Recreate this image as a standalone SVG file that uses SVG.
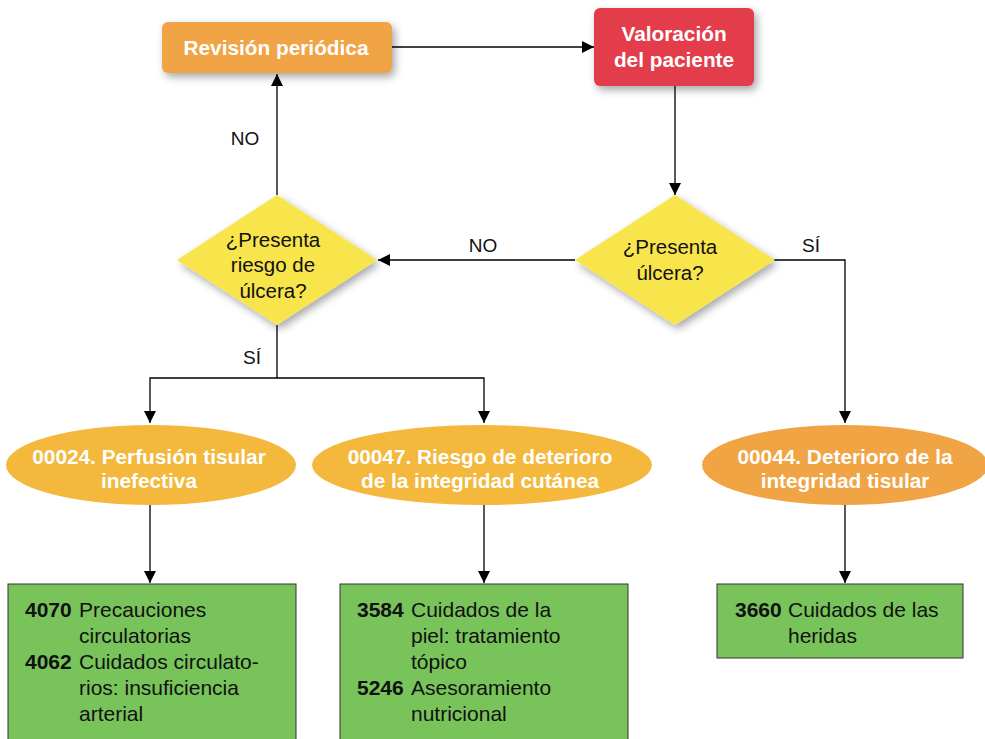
<svg xmlns="http://www.w3.org/2000/svg" width="985" height="739" viewBox="0 0 985 739">
<defs>
<filter id="sh" x="-20%" y="-20%" width="150%" height="160%">
<feGaussianBlur in="SourceAlpha" stdDeviation="4"/>
<feOffset dx="3" dy="4" result="b"/>
<feComponentTransfer><feFuncA type="linear" slope="0.35"/></feComponentTransfer>
<feMerge><feMergeNode/><feMergeNode in="SourceGraphic"/></feMerge>
</filter>
<marker id="ah" viewBox="0 0 12 12" refX="12" refY="6" markerWidth="12" markerHeight="12" markerUnits="userSpaceOnUse" orient="auto">
<path d="M0,0 L12,6 L0,12 Z" fill="#000"/>
</marker>
</defs>
<style>
.c{fill:none;stroke:#000;stroke-width:1.3}
.t{font-family:"Liberation Sans",Arial,sans-serif}
.w{fill:#fff;font-weight:bold;font-size:20.8px;text-anchor:middle}
.q{fill:#111;font-size:20.5px;text-anchor:middle}
.l{fill:#111;font-size:19px;text-anchor:middle}
.b{fill:#111;font-size:21px}
.n{font-weight:bold}
.g{fill:#78C45B;stroke:#333;stroke-width:1}
.d{fill:#F8E44B}
</style>
<g id="connectors">
<path class="c" d="M392,47 H594" marker-end="url(#ah)"/>
<path class="c" d="M675,86 V195" marker-end="url(#ah)"/>
<path class="c" d="M575,260 H378" marker-end="url(#ah)"/>
<path class="c" d="M773,260 H845 V423" marker-end="url(#ah)"/>
<path class="c" d="M277,195 V74" marker-end="url(#ah)"/>
<path class="c" d="M277,325 V378 H150 V423" marker-end="url(#ah)"/>
<path class="c" d="M277,378 H484 V423" marker-end="url(#ah)"/>
<path class="c" d="M150,505 V583" marker-end="url(#ah)"/>
<path class="c" d="M484,505 V583" marker-end="url(#ah)"/>
<path class="c" d="M845,505 V583" marker-end="url(#ah)"/>
<text class="t l" x="245" y="145">NO</text>
<text class="t l" x="483" y="252">NO</text>
<text class="t l" x="811" y="252">SÍ</text>
<text class="t l" x="252" y="364">SÍ</text>
</g>
<g id="revision">
<rect x="162" y="22" width="230" height="51" rx="6" fill="#F0A444" filter="url(#sh)"/>
<text class="t w" x="276" y="55">Revisión periódica</text>
</g>
<g id="valoracion">
<rect x="594" y="8" width="160" height="78" rx="6" fill="#E33D4C" filter="url(#sh)"/>
<text class="t w" x="674" y="41">Valoración</text>
<text class="t w" x="674" y="67">del paciente</text>
</g>
<g id="q-ulcera">
<path class="d" d="M675,195 L775,260 L675,325 L575,260 Z" filter="url(#sh)"/>
<text class="t q" x="670" y="254">¿Presenta</text>
<text class="t q" x="670" y="280">úlcera?</text>
</g>
<g id="q-riesgo">
<path class="d" d="M277,195 L377,260 L277,325 L177,260 Z" filter="url(#sh)"/>
<text class="t q" x="273" y="247">¿Presenta</text>
<text class="t q" x="273" y="272">riesgo de</text>
<text class="t q" x="273" y="298">úlcera?</text>
</g>
<g id="dx-00024">
<ellipse cx="151" cy="465" rx="145" ry="40" fill="#F3B83C"/>
<text class="t w" x="149" y="464">00024. Perfusión tisular</text>
<text class="t w" x="149" y="488">inefectiva</text>
</g>
<g id="dx-00047">
<ellipse cx="482" cy="465" rx="170" ry="40" fill="#F3B83C"/>
<text class="t w" x="480" y="464">00047. Riesgo de deterioro</text>
<text class="t w" x="480" y="488">de la integridad cutánea</text>
</g>
<g id="dx-00044">
<ellipse cx="845" cy="465" rx="143" ry="40" fill="#F0A444"/>
<text class="t w" x="845" y="464">00044. Deterioro de la</text>
<text class="t w" x="845" y="488">integridad tisular</text>
</g>
<g id="nic-left">
<rect class="g" x="8" y="584" width="288" height="170"/>
<text class="t b" x="25" y="617"><tspan class="n">4070</tspan></text>
<text class="t b" x="79" y="617">Precauciones</text>
<text class="t b" x="79" y="643">circulatorias</text>
<text class="t b" x="25" y="669"><tspan class="n">4062</tspan></text>
<text class="t b" x="79" y="669">Cuidados circulato-</text>
<text class="t b" x="79" y="695">rios: insuficiencia</text>
<text class="t b" x="79" y="721">arterial</text>
</g>
<g id="nic-middle">
<rect class="g" x="340" y="584" width="288" height="170"/>
<text class="t b" x="357" y="617"><tspan class="n">3584</tspan></text>
<text class="t b" x="411" y="617">Cuidados de la</text>
<text class="t b" x="411" y="643">piel: tratamiento</text>
<text class="t b" x="411" y="669">tópico</text>
<text class="t b" x="357" y="695"><tspan class="n">5246</tspan></text>
<text class="t b" x="411" y="695">Asesoramiento</text>
<text class="t b" x="411" y="721">nutricional</text>
</g>
<g id="nic-right">
<rect class="g" x="717" y="584" width="246" height="74"/>
<text class="t b" x="735" y="617"><tspan class="n">3660</tspan></text>
<text class="t b" x="788" y="617">Cuidados de las</text>
<text class="t b" x="788" y="643">heridas</text>
</g>
</svg>
